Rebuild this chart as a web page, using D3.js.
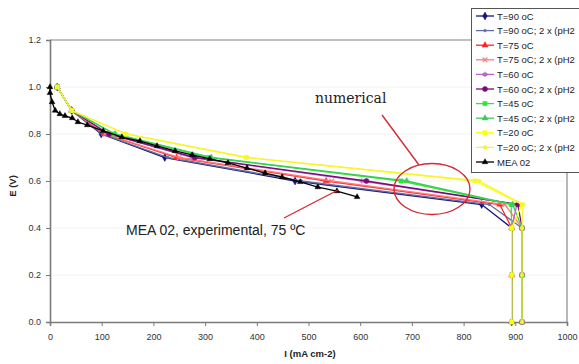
<!DOCTYPE html>
<html>
<head>
<meta charset="utf-8">
<script src="https://cdn.jsdelivr.net/npm/d3@7"></script>
<style>
  body { margin: 0; background: #fff; }
  svg { display: block; font-family: "Liberation Sans", Arial, sans-serif; }
</style>
</head>
<body>
<svg id="chart" width="579" height="364"></svg>
<script>
// E levels used by the numerical runs
const eLevels = [1.0, 0.9, 0.8, 0.7, 0.6, 0.5, 0.4, 0.2, 0.0];

// current density (mA cm-2) of each numerical run at the E levels above
const t90 = [14, 42, 99, 222, 474, 835, 893, 893, 893];
const t90x2 = [14, 42, 101, 228, 486, 850, 913, 913, 913];
const t75 = [14, 42, 105, 245, 534, 870, 893, 893, 893];
const t75x2 = [14, 42, 107, 250, 545, 880, 913, 913, 913];
const t60 = [14, 42, 112, 275, 603, 903, 893, 893, 893];
const t60x2 = [14, 42, 114, 280, 612, 905, 913, 913, 913];
const t45 = [14, 42, 124, 307, 679, 892, 893, 893, 893];
const t45x2 = [14, 42, 126, 312, 690, 895, 913, 913, 913];
const t20 = [14, 42, 146, 379, 822, 913, 893, 893, 893];
const t20x2 = [14, 42, 148, 382, 830, 915, 913, 913, 913];

// experimental curve MEA 02
const meaI = [0, 0, 4, 10, 19, 29, 43, 54, 72, 103, 139, 174, 207, 242, 275, 309, 344, 381, 416, 449, 484, 518, 555, 594];
const meaE = [1.0, 0.975, 0.936, 0.90, 0.885, 0.877, 0.868, 0.851, 0.838, 0.813, 0.787, 0.770, 0.749, 0.728, 0.711, 0.694, 0.677, 0.655, 0.634, 0.617, 0.596, 0.574, 0.557, 0.532];

const seriesNames = ["T=90 oC", "T=90 oC; 2 x (pH2", "T=75 oC", "T=75 oC; 2 x (pH2", "T=60 oC",
  "T=60 oC; 2 x (pH2", "T=45 oC", "T=45 oC; 2 x (pH2", "T=20 oC", "T=20 oC; 2 x (pH2", "MEA 02"];

const xTicks = [0, 100, 200, 300, 400, 500, 600, 700, 800, 900, 1000];
const yTicks = [0.0, 0.2, 0.4, 0.6, 0.8, 1.0, 1.2];

const svg = d3.select("#chart");

const x = d3.scaleLinear().domain([0, 1000]).range([50, 567]);
const y = d3.scaleLinear().domain([0, 1.2]).range([322, 40]);

// build series list
const numericRuns = [t90, t90x2, t75, t75x2, t60, t60x2, t45, t45x2, t20, t20x2];
const styles = [
  { color: "#14147a", sym: d3.symbolDiamond, size: 18, stroke: false },
  { color: "#6070a4", sym: d3.symbolCircle, size: 6, stroke: false },
  { color: "#ff2424", sym: d3.symbolTriangle, size: 16, stroke: false },
  { color: "#ff7a7a", sym: d3.symbolX, size: 16, stroke: true },
  { color: "#b866cc", sym: d3.symbolAsterisk, size: 18, stroke: true },
  { color: "#7a0a7a", sym: d3.symbolCircle, size: 20, stroke: false },
  { color: "#2eea2e", sym: d3.symbolSquare, size: 18, stroke: false },
  { color: "#3ccc5a", sym: d3.symbolTriangle, size: 16, stroke: false },
  { color: "#ffff00", sym: d3.symbolSquare, size: 18, stroke: false },
  { color: "#f6f43a", sym: d3.symbolCircle, size: 12, stroke: false },
  { color: "#000000", sym: d3.symbolTriangle, size: 14, stroke: false }
];

const series = numericRuns.map((run, i) => ({
  name: seriesNames[i],
  style: styles[i],
  points: run.map((v, j) => ({ i: v, e: eLevels[j] }))
}));
series.push({
  name: seriesNames[10],
  style: styles[10],
  points: meaI.map((v, j) => ({ i: v, e: meaE[j] }))
});

// faint gridlines
svg.append("g")
  .selectAll("line")
  .data(yTicks.slice(1))
  .join("line")
  .attr("x1", x(0)).attr("x2", x(1000))
  .attr("y1", d => y(d)).attr("y2", d => y(d))
  .attr("stroke", "#f3f3f3");

// plot frame (top and right)
svg.append("path")
  .attr("d", `M${x(0)},${y(1.2)}H${x(1000)}V${y(0)}`)
  .attr("fill", "none")
  .attr("stroke", "#8a8a8a")
  .attr("stroke-width", 1.2);

// axes
const xAxis = svg.append("g")
  .attr("transform", `translate(0,${y(0)})`)
  .call(d3.axisBottom(x).tickValues(xTicks).tickSize(4).tickPadding(8).tickFormat(d3.format("d")));
const yAxis = svg.append("g")
  .attr("transform", `translate(${x(0)},0)`)
  .call(d3.axisLeft(y).tickValues(yTicks).tickSize(4).tickPadding(5).tickFormat(d3.format(".1f")));

[xAxis, yAxis].forEach(a => {
  a.select(".domain").attr("stroke", "#7a7a7a").attr("stroke-width", 1.6);
  a.selectAll(".tick line").attr("stroke", "#7a7a7a");
  a.selectAll("text").attr("font-size", 9).attr("fill", "#333")
    .attr("font-family", "Liberation Sans, Arial, sans-serif");
});

// axis titles
svg.append("text")
  .attr("x", 310).attr("y", 357)
  .attr("text-anchor", "middle")
  .attr("font-size", 9.5).attr("font-weight", "bold").attr("fill", "#222")
  .text("I (mA cm-2)");
svg.append("text")
  .attr("transform", "translate(16,186) rotate(-90)")
  .attr("text-anchor", "middle")
  .attr("font-size", 9.5).attr("font-weight", "bold").attr("fill", "#222")
  .text("E (V)");

// lines and markers
const line = d3.line().x(d => x(d.i)).y(d => y(d.e));

function drawMarker(sel, st) {
  sel.attr("d", d3.symbol().type(st.sym).size(st.size))
    .attr("fill", st.stroke ? "none" : st.color)
    .attr("stroke", st.color)
    .attr("stroke-width", st.stroke ? 1.2 : 0.5);
}

const plot = svg.append("g");
series.forEach(s => {
  const g = plot.append("g");
  g.append("path")
    .datum(s.points)
    .attr("d", line)
    .attr("fill", "none")
    .attr("stroke", s.style.color)
    .attr("stroke-width", 1.3);
  g.selectAll("path.m")
    .data(s.points)
    .join("path")
    .attr("class", "m")
    .attr("transform", d => `translate(${x(d.i)},${y(d.e)})`)
    .call(drawMarker, s.style);
});

// annotations
const red = "#d42a36";
svg.append("ellipse")
  .attr("cx", 432).attr("cy", 189).attr("rx", 38).attr("ry", 25.5)
  .attr("fill", "none").attr("stroke", red).attr("stroke-width", 1.4);
svg.append("line")
  .attr("x1", 382).attr("y1", 115).attr("x2", 419).attr("y2", 165)
  .attr("stroke", red).attr("stroke-width", 1.4);
svg.append("text")
  .attr("x", 315).attr("y", 103)
  .attr("font-family", "DejaVu Serif, serif").attr("font-size", 14).attr("fill", "#222")
  .text("numerical");

svg.append("line")
  .attr("x1", 284).attr("y1", 218).attr("x2", 338).attr("y2", 190)
  .attr("stroke", red).attr("stroke-width", 1.4);
svg.append("text")
  .attr("x", 126).attr("y", 235)
  .attr("font-size", 14).attr("fill", "#222")
  .text("MEA 02, experimental, 75 ºC");

// legend
const legend = svg.append("g");
legend.append("rect")
  .attr("x", 471.5).attr("y", 8.5).attr("width", 130).attr("height", 164)
  .attr("fill", "#fff").attr("stroke", "#555").attr("stroke-width", 1);

const rows = legend.selectAll("g.row")
  .data(series)
  .join("g")
  .attr("class", "row")
  .attr("transform", (d, i) => `translate(0,${16 + i * 14.6})`);
rows.append("line")
  .attr("x1", 476).attr("x2", 494)
  .attr("stroke", d => d.style.color).attr("stroke-width", 1.3);
rows.append("path")
  .attr("transform", "translate(485,0)")
  .each(function(d) { d3.select(this).call(drawMarker, d.style); });
rows.append("text")
  .attr("x", 497).attr("y", 3.5)
  .attr("font-size", 9.5).attr("fill", "#222")
  .text(d => d.name);
</script>
</body>
</html>
